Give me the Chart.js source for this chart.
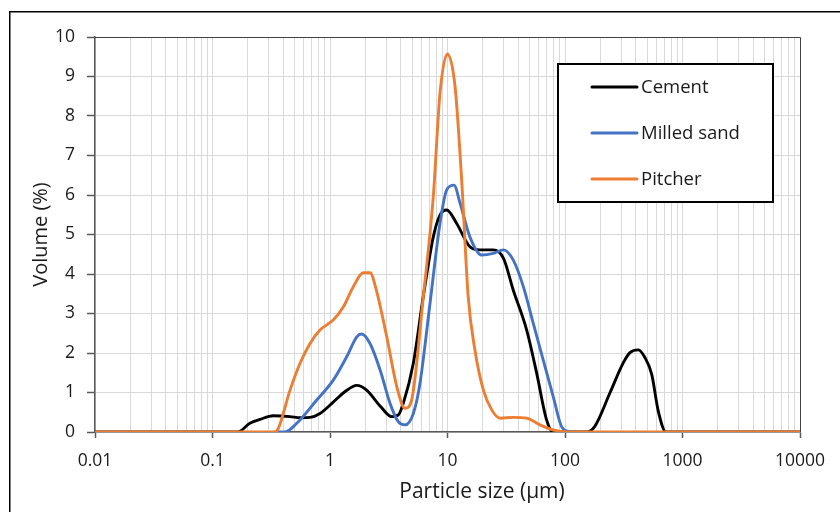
<!DOCTYPE html>
<html><head><meta charset="utf-8">
<script src="https://cdn.jsdelivr.net/npm/chart.js@4"></script>
<style>html,body{margin:0;padding:0;background:#fff}#wrap{width:840px;height:512px;position:relative}</style>
</head><body><div id="wrap"><canvas id="c" width="840" height="512"></canvas></div>
<script>
const seriesNames = ['Cement', 'Milled sand', 'Pitcher'];
const seriesColors = ['#000000', '#4472C4', '#ED7D31'];

const cementSize   = [0.01, 0.164, 0.208, 0.254, 0.329, 0.457, 0.556, 0.676, 0.822, 1.06, 1.34, 1.69, 2.05, 2.67, 3.35, 3.81, 4.21, 5.12, 6.22, 7.57, 8.63, 9.84, 11.97, 15.5, 18.9, 24.5, 29.9, 36.3, 47.2, 57.4, 69.8, 79.5, 153, 180, 242, 313, 357, 421, 480, 547, 622, 724, 10000];
const cementVolume = [0, 0, 0.22, 0.32, 0.41, 0.39, 0.36, 0.37, 0.47, 0.75, 1.02, 1.18, 1.06, 0.66, 0.39, 0.43, 0.73, 1.74, 3.43, 4.94, 5.49, 5.62, 5.28, 4.69, 4.61, 4.61, 4.40, 3.59, 2.58, 1.49, 0.30, 0, 0, 0.15, 1.0, 1.75, 2.01, 2.08, 1.88, 1.46, 0.53, 0, 0];

const sandSize   = [0.340, 0.414, 0.521, 0.771, 1.07, 1.39, 1.69, 1.86, 2.19, 2.67, 3.24, 3.81, 4.35, 5.12, 5.83, 7.10, 8.63, 9.84, 11.36, 12.8, 15.5, 19.5, 24.5, 29.9, 36.3, 44.2, 53.7, 65.3, 79.5, 93.7, 110];
const sandVolume = [0, 0, 0.22, 0.81, 1.32, 1.91, 2.41, 2.48, 2.24, 1.57, 0.73, 0.26, 0.18, 0.47, 1.23, 3.26, 5.28, 6.13, 6.25, 5.79, 4.94, 4.48, 4.52, 4.61, 4.35, 3.68, 2.75, 1.82, 0.89, 0.13, 0];

const pitcherSize   = [0.01, 0.340, 0.363, 0.457, 0.556, 0.676, 0.822, 1.07, 1.30, 1.58, 1.92, 2.19, 2.50, 3.04, 3.70, 4.35, 4.95, 6.22, 7.57, 8.63, 9.96, 11.6, 13.2, 15.0, 17.1, 20.2, 23.8, 28.0, 36.3, 47.2, 61.2, 79.5, 103, 10000];
const pitcherVolume = [0, 0, 0.09, 1.06, 1.74, 2.24, 2.58, 2.84, 3.17, 3.68, 4.03, 4.03, 3.55, 2.41, 1.15, 0.60, 0.81, 3.42, 5.96, 8.57, 9.57, 8.74, 6.38, 3.43, 2.08, 1.06, 0.56, 0.35, 0.37, 0.35, 0.18, 0.05, 0, 0];

const xTickLabels = ['0.01', '0.1', '1', '10', '100', '1000', '10000'];
const yTickLabels = ['0', '1', '2', '3', '4', '5', '6', '7', '8', '9', '10'];
const xTitle = 'Particle size (\u00B5m)';
const yTitle = 'Volume (%)';

const FONT = '"Open Sans", Lato, sans-serif';
const TEXT = '#1a1a1a';
const sizes = [cementSize, sandSize, pitcherSize];
const vols = [cementVolume, sandVolume, pitcherVolume];

const datasets = seriesNames.map((name, i) => ({
  label: name,
  data: sizes[i].map((s, j) => ({x: s, y: vols[i][j]})),
  borderColor: seriesColors[i],
  backgroundColor: seriesColors[i],
  borderWidth: 2.9,
  pointRadius: 0,
  showLine: true,
  fill: false,
  cubicInterpolationMode: 'monotone',
  borderJoinStyle: 'round',
  borderCapStyle: 'round',
  order: 3 - i
}));

function isDecade(v) {
  const lg = Math.log10(v);
  return Math.abs(lg - Math.round(lg)) < 1e-9;
}

const decor = {
  id: 'decor',
  afterDraw(chart) {
    const ctx = chart.ctx;
    const a = chart.chartArea;
    ctx.save();
    // outer frame (top & left visible)
    ctx.strokeStyle = '#000';
    ctx.lineWidth = 1.5;
    ctx.beginPath();
    ctx.moveTo(9.75, 520); ctx.lineTo(9.75, 11.75); ctx.lineTo(850, 11.75);
    ctx.stroke();
    // plot area top & right border
    ctx.strokeStyle = '#404040';
    ctx.lineWidth = 1;
    ctx.beginPath();
    ctx.moveTo(a.left, a.top + 0.5); ctx.lineTo(a.right + 0.5, a.top + 0.5); ctx.lineTo(a.right + 0.5, a.bottom);
    ctx.stroke();
    // legend
    const lx = 558, ly = 64, lw = 215, lh = 138;
    ctx.fillStyle = '#fff';
    ctx.fillRect(lx, ly, lw, lh);
    ctx.strokeStyle = '#000';
    ctx.lineWidth = 2;
    ctx.strokeRect(lx, ly, lw, lh);
    ctx.font = '18.5px ' + FONT;
    ctx.textBaseline = 'middle';
    ctx.textAlign = 'left';
    chart.data.datasets.forEach((ds, i) => {
      const y = 87 + i * 46;
      ctx.strokeStyle = ds.borderColor;
      ctx.lineWidth = 3;
      ctx.lineCap = 'round';
      ctx.beginPath(); ctx.moveTo(592, y); ctx.lineTo(637, y); ctx.stroke();
      ctx.fillStyle = TEXT;
      ctx.fillText(ds.label, 641, y + 1);
    });
    // x axis title
    ctx.fillStyle = TEXT;
    ctx.font = '21px ' + FONT;
    ctx.textAlign = 'center';
    ctx.fillText(xTitle, 482, 492);
    ctx.restore();
  }
};

new Chart(document.getElementById('c'), {
  type: 'scatter',
  data: { datasets },
  options: {
    responsive: false,
    animation: false,
    devicePixelRatio: 1,
    layout: { padding: { left: 10, top: 37, right: 40, bottom: 0 } },
    plugins: { legend: { display: false }, tooltip: { enabled: false }, title: { display: false } },
    scales: {
      x: {
        type: 'logarithmic',
        min: 0.01, max: 10000,
        afterBuildTicks(scale) {
          const t = [];
          for (let e = -2; e <= 4; e++) {
            for (let m = 1; m <= 9; m++) {
              const v = parseFloat((m * Math.pow(10, e)).toPrecision(6));
              if (v <= 10000) t.push({ value: v });
            }
          }
          scale.ticks = t;
        },
        afterFit(scale) { scale.height = 80; },
        ticks: {
          autoSkip: false, maxRotation: 0, minRotation: 0,
          padding: 13,
          color: TEXT,
          font: { family: FONT, size: 17.5 },
          callback(v) { return isDecade(v) ? xTickLabels[Math.round(Math.log10(v)) + 2] : ''; }
        },
        grid: {
          color: '#d9d9d9', lineWidth: 1, tickLength: 6,
          tickColor: (c) => (c.tick && isDecade(c.tick.value)) ? '#595959' : 'rgba(0,0,0,0)',
          tickWidth: 1.5
        },
        border: { display: true, color: '#595959', width: 1.5 }
      },
      y: {
        type: 'linear',
        min: 0, max: 10,
        afterFit(scale) { scale.width = 85; },
        ticks: {
          stepSize: 1, padding: 12, color: TEXT,
          font: { family: FONT, size: 17.5 },
          callback(v) { return yTickLabels[Math.round(v)]; }
        },
        grid: { color: '#d9d9d9', lineWidth: 1, tickLength: 8, tickColor: '#595959', tickWidth: 1.5 },
        border: { display: true, color: '#595959', width: 1.5 },
        title: { display: true, text: yTitle, color: TEXT, font: { family: FONT, size: 20 }, padding: { top: 19, bottom: 0 } }
      }
    }
  },
  plugins: [decor]
});
</script>
</body></html>
